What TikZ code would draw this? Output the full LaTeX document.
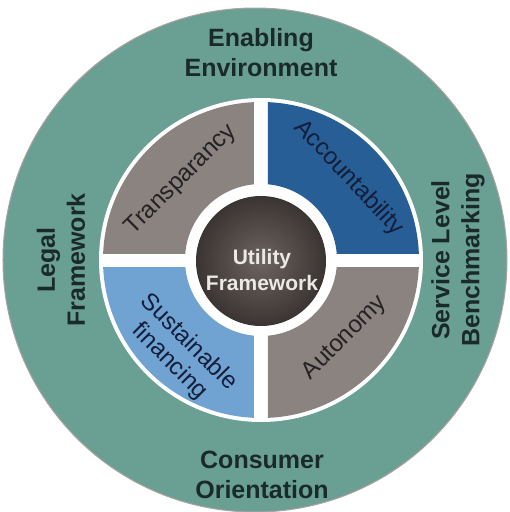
\documentclass[tikz,border=0pt]{standalone}
\usepackage{fontspec}
\setmainfont{Liberation Sans}
\definecolor{ringteal}{RGB}{106,160,148}
\definecolor{quadgray}{RGB}{139,131,127}
\definecolor{accblue}{RGB}{40,94,150}
\definecolor{finblue}{RGB}{112,162,210}
\definecolor{coredark}{RGB}{58,52,50}
\definecolor{corelight}{RGB}{108,101,98}
\definecolor{outertext}{RGB}{26,42,40}
\definecolor{innertext}{RGB}{36,34,36}
\tikzset{
  outerlabel/.style={font=\fontsize{25}{30}\selectfont\bfseries, text=outertext, align=center},
  innerlabel/.style={font=\fontsize{24}{27}\selectfont, text=innertext, align=center},
  corelabel/.style={font=\fontsize{21}{26}\selectfont\bfseries, text={rgb,255:red,236;green,232;blue,228}, align=center},
}

\begin{document}
\begin{tikzpicture}[x=1pt,y=1pt]
	\useasboundingbox (-261,-252) rectangle (249,260);
	\fill[ringteal, draw={rgb,255:red,172;green,162;blue,160}, line width=1pt] (-6,0) circle (252);
	\fill[white] (0,0) circle (162);
	\foreach \sx/\sy/\col in {1/1/accblue, -1/1/quadgray, -1/-1/finblue, 1/-1/quadgray}{
		\begin{scope}
			\clip (7*\sx,7*\sy) rectangle (170*\sx,170*\sy);
			\fill[\col, even odd rule] (0,0) circle (158) (0,0) circle (76);
		\end{scope}
	}
	\shade[inner color=corelight, outer color=coredark] (0,-1) circle (65);
	\node[corelabel] (core) at (1,-10) {Utility\\Framework};
	\node[outerlabel] (enabling) at (0,207) {Enabling\\Environment};
	\node[outerlabel] (consumer) at (1,-215) {Consumer\\Orientation};
	\node[outerlabel, rotate=90] (legal) at (-200,0) {Legal\\Framework};
	\node[outerlabel, rotate=90] (service) at (197,0) {Service Level\\Benchmarking};
	\node[innerlabel, rotate=45] (transp) at (-80,80) {Transparancy};
	\node[innerlabel, rotate=-47, text={rgb,255:red,18;green,30;blue,58}] (account) at (88,82) {Accountability};
	\node[innerlabel, rotate=45] (auton) at (84,-78) {Autonomy};
	\node[innerlabel, rotate=-45, text={rgb,255:red,18;green,30;blue,58}] (sustain) at (-82,-92) {Sustainable\\financing};
\end{tikzpicture}
\end{document}
